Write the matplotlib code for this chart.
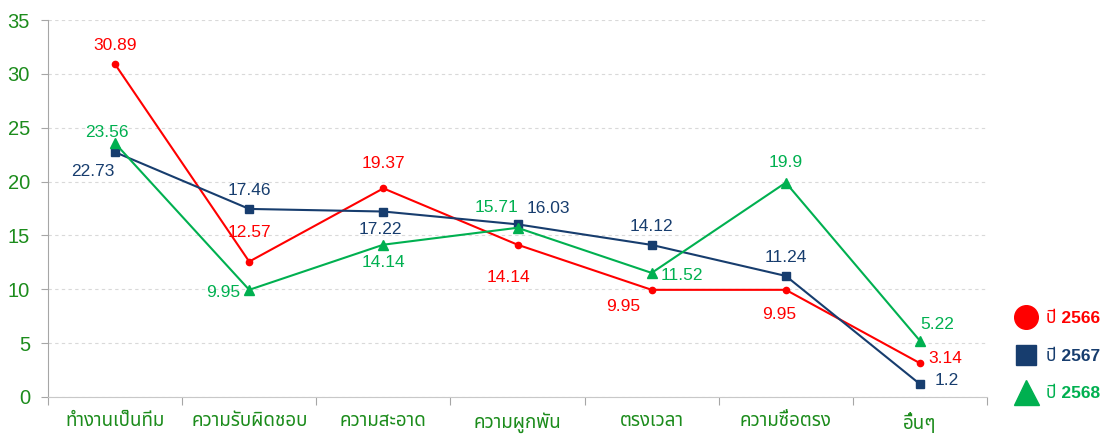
import matplotlib
matplotlib.use("Agg")
import matplotlib.pyplot as plt
from matplotlib.lines import Line2D

plt.rcParams['font.family'] = ['Liberation Sans', 'Noto Sans Thai', 'DejaVu Sans']

categories = ['ทำงานเป็นทีม', 'ความรับผิดชอบ', 'ความสะอาด', 'ความผูกพัน',
              'ตรงเวลา', 'ความซื่อตรง', 'อื่นๆ']
series_names = ['ปี 2566', 'ปี 2567', 'ปี 2568']
y2566 = [30.89, 12.57, 19.37, 14.14, 9.95, 9.95, 3.14]
y2567 = [22.73, 17.46, 17.22, 16.03, 14.12, 11.24, 1.2]
y2568 = [23.56, 9.95, 14.14, 15.71, 11.52, 19.9, 5.22]

# label offsets in pixels (dx, dy), picked by eye from the reference
off2566 = [(0, 19), (0, 29), (0, 25), (-9, -33), (-28, -17), (-7, -25), (25, 5)]
off2567 = [(-22, -19), (0, 18), (-3, -18), (31, 16), (0, 18), (0, 18), (27, 4)]
off2568 = [(-8, 11), (-26, -3), (0, -18), (-21, 20), (30, -3), (0, 20), (17, 16)]

c_red = '#FF0000'
c_navy = '#173D6E'
c_green = '#00B050'
c_tick = '#1C8C1C'

fig = plt.figure(figsize=(11.14, 4.37), dpi=100)
ax = fig.add_axes([48 / 1114, 1 - 397 / 437, (987 - 48) / 1114, (397 - 20) / 437])

x = list(range(len(categories)))
styles = [
    (y2566, off2566, c_red, 'o', 4.5),
    (y2567, off2567, c_navy, 's', 5.5),
    (y2568, off2568, c_green, '^', 6.5),
]
for ys, offs, col, mk, ms in styles:
    ax.plot(x, ys, color=col, lw=1.5, marker=mk, ms=ms, zorder=3)
    for xi, yi, (dx, dy) in zip(x, ys, offs):
        ax.annotate(f'{yi:g}', (xi, yi), xytext=(dx, dy), textcoords='offset pixels',
                    ha='center', va='center', color=col, fontsize=12.5, zorder=4)

ax.set_xlim(-0.5, len(categories) - 0.5)
ax.set_ylim(0, 35)
ax.set_yticks(range(0, 36, 5))
ax.yaxis.grid(True, color='#D9D9D9', ls=(0, (3, 3)), lw=0.8)
ax.set_axisbelow(True)

ax.set_xticks(x)
ax.set_xticklabels(categories, family=['Noto Sans Thai', 'DejaVu Sans'],
                   fontsize=13.5, color=c_tick, fontweight='semibold')
ax.set_xticks([i - 0.5 for i in range(len(categories) + 1)], minor=True)
ax.tick_params(axis='x', which='major', length=0, pad=11)
ax.tick_params(axis='x', which='minor', length=6, color='#A6A6A6', width=0.8)
ax.tick_params(axis='y', length=5, color='#A6A6A6', width=0.8,
               labelsize=14.5, labelcolor=c_tick, pad=8)

for s in ['top', 'right']:
    ax.spines[s].set_visible(False)
ax.spines['left'].set_color('#A6A6A6')
ax.spines['bottom'].set_color('#C8C8C8')

handles = [
    Line2D([], [], ls='none', marker='o', ms=17, color=c_red),
    Line2D([], [], ls='none', marker='s', ms=15, color=c_navy),
    Line2D([], [], ls='none', marker='^', ms=18, color=c_green),
]
leg = fig.legend(handles, series_names, loc='center left',
                 bbox_to_anchor=(1000 / 1114, 1 - 356 / 437), frameon=False,
                 labelspacing=1.3, handletextpad=0.55, handlelength=1.2,
                 prop={'family': ['Liberation Sans', 'Noto Sans Thai'], 'size': 12.5,
                       'weight': 'bold'})
for t, col in zip(leg.get_texts(), [c_red, c_navy, c_green]):
    t.set_color(col)

fig.savefig('out.png', dpi=100)
